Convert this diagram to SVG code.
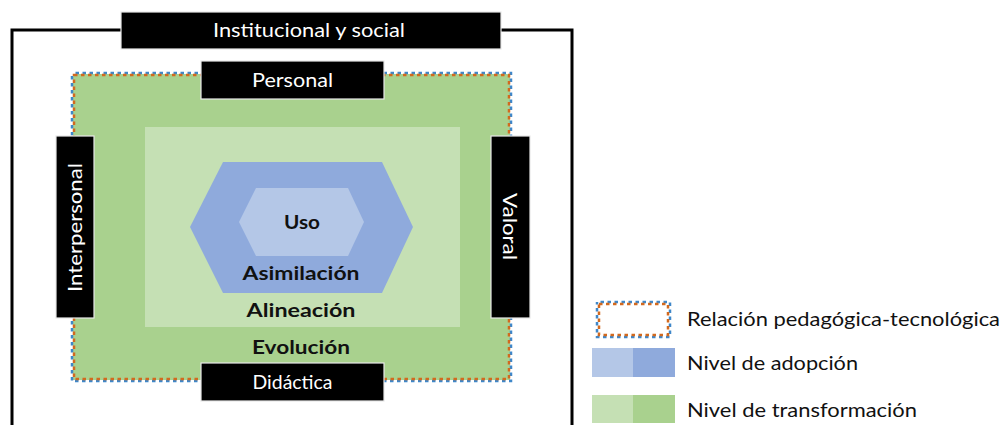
<svg xmlns="http://www.w3.org/2000/svg" width="1003" height="425" viewBox="0 0 1003 425">
<style>
.lbl{fill:#000;stroke:#e8e8e8;stroke-width:1.2}
.wt{font-family:Lato,"Liberation Sans",sans-serif;font-size:20px;fill:#fff;text-anchor:middle}
.lv{font-family:Lato,"Liberation Sans",sans-serif;font-weight:bold;font-size:18px;fill:#111;text-anchor:middle}
.lg{font-family:Lato,"Liberation Sans",sans-serif;font-size:20px;fill:#111}
.dotO{fill:none;stroke:#d2691e;stroke-width:2.5;stroke-dasharray:3.5 3.5}
.dotB{fill:none;stroke:#3f87c9;stroke-width:2.5;stroke-dasharray:3.5 3.5;stroke-dashoffset:3.5}
</style>
<rect width="1003" height="425" fill="#fff"/>
<g id="connectors">
<polyline points="121,30 12,30 12,425" fill="none" stroke="#000" stroke-width="3"/>
<polyline points="501,30 572,30 572,425" fill="none" stroke="#000" stroke-width="3"/>
</g>
<g id="evolucion">
<rect x="73" y="74" width="437" height="306" fill="#a9d18e"/>
<rect x="72" y="73" width="439" height="308" class="dotB"/>
<rect x="74" y="75" width="435" height="304" class="dotO"/>
<text x="301" y="354" class="lv" textLength="98" lengthAdjust="spacingAndGlyphs">Evolución</text>
</g>
<g id="alineacion">
<rect x="145" y="127" width="315" height="200" fill="#c5e0b4"/>
<text x="301" y="317" class="lv" textLength="109" lengthAdjust="spacingAndGlyphs">Alineación</text>
</g>
<g id="asimilacion">
<polygon points="190,227 223,162 382,162 413,227 382,293 223,293" fill="#8faadc"/>
<text x="301" y="280" class="lv" textLength="117" lengthAdjust="spacingAndGlyphs">Asimilación</text>
</g>
<g id="uso">
<polygon points="239,222 256,188 348,188 364,222 348,256 256,256" fill="#b4c7e7"/>
<text x="302" y="229" class="lv" textLength="36" lengthAdjust="spacingAndGlyphs">Uso</text>
</g>
<g id="institucional">
<rect x="121" y="12" width="380" height="37" class="lbl"/>
<text x="309" y="37" class="wt" textLength="192" lengthAdjust="spacingAndGlyphs">Institucional y social</text>
</g>
<g id="personal">
<rect x="201" y="61" width="183" height="38" class="lbl"/>
<text x="292.5" y="87" class="wt" textLength="81" lengthAdjust="spacingAndGlyphs">Personal</text>
</g>
<g id="didactica">
<rect x="201" y="363" width="183" height="38" class="lbl"/>
<text x="292.5" y="389" class="wt" textLength="80" lengthAdjust="spacingAndGlyphs">Didáctica</text>
</g>
<g id="interpersonal">
<rect x="56" y="136" width="38" height="182" class="lbl"/>
<text transform="translate(82,227.5) rotate(-90)" class="wt" textLength="129" lengthAdjust="spacingAndGlyphs">Interpersonal</text>
</g>
<g id="valoral">
<rect x="491" y="136" width="39" height="182" class="lbl"/>
<text transform="translate(503,226.5) rotate(90)" class="wt" textLength="67" lengthAdjust="spacingAndGlyphs">Valoral</text>
</g>
<g id="legend">
<rect x="597" y="302" width="73" height="35" class="dotB"/>
<rect x="599" y="304" width="69" height="31" class="dotO"/>
<text x="687" y="326" class="lg" textLength="313" lengthAdjust="spacingAndGlyphs">Relación pedagógica-tecnológica</text>
<rect x="592" y="348" width="41" height="29" fill="#b4c7e7"/>
<rect x="633" y="348" width="42" height="29" fill="#8faadc"/>
<text x="687" y="370" class="lg" textLength="171" lengthAdjust="spacingAndGlyphs">Nivel de adopción</text>
<rect x="592" y="395" width="41" height="28" fill="#c5e0b4"/>
<rect x="633" y="395" width="42" height="28" fill="#a9d18e"/>
<text x="687" y="417" class="lg" textLength="230" lengthAdjust="spacingAndGlyphs">Nivel de transformación</text>
</g>
</svg>
